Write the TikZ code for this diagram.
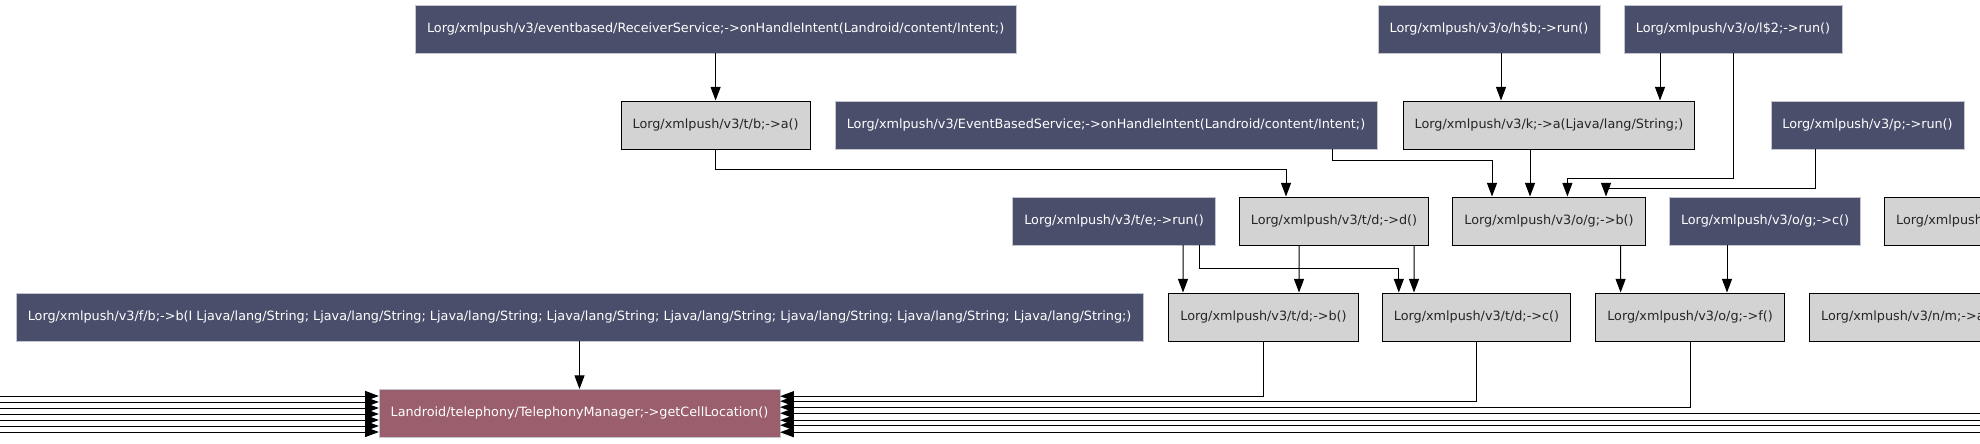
\documentclass[tikz,border=0pt]{standalone}
\usepackage{fontspec}
\setmainfont{DejaVu Sans}
\usetikzlibrary{arrows.meta,calc}
\definecolor{Slate}{HTML}{494E6B}
\definecolor{Ash}{HTML}{D3D3D3}
\definecolor{Rose}{HTML}{9A5E6C}
\definecolor{Rim}{HTML}{C4C6CF}

\begin{document}
\begin{tikzpicture}[font=\fontsize{9.1pt}{11pt}\selectfont,>={Triangle[length=3.4mm,width=2.5mm]},cell/.style={minimum height=1.2cm,inner xsep=2.9mm,inner ysep=0pt},caller/.style={cell,fill=Slate,draw=Rim,line width=0.3pt,text=white},callee/.style={cell,fill=Ash,draw=black,line width=0.7pt,text=black!85},sink/.style={cell,fill=Rose,draw=Rim,line width=0.3pt,text=white},flow/.style={->,line width=0.7pt,draw=black}]
 \useasboundingbox (0,0) rectangle (49.5,-11.075);
 \node[caller] (rs) at (17.89,-0.725) {Lorg/xmlpush/v3/eventbased/ReceiverService;->onHandleIntent(Landroid/content/Intent;)};
 \node[caller] (hb) at (37.225,-0.725) {Lorg/xmlpush/v3/o/h\$b;->run()};
 \node[caller] (l2) at (43.325,-0.725) {Lorg/xmlpush/v3/o/l\$2;->run()};
 \node[callee] (tba) at (17.89,-3.125) {Lorg/xmlpush/v3/t/b;->a()};
 \node[caller] (ebs) at (27.65,-3.125) {Lorg/xmlpush/v3/EventBasedService;->onHandleIntent(Landroid/content/Intent;)};
 \node[callee] (ka) at (38.725,-3.125) {Lorg/xmlpush/v3/k;->a(Ljava/lang/String;)};
 \node[caller] (prun) at (46.6875,-3.125) {Lorg/xmlpush/v3/p;->run()};
 \node[caller] (terun) at (27.85,-5.525) {Lorg/xmlpush/v3/t/e;->run()};
 \node[callee] (tdd) at (33.35,-5.525) {Lorg/xmlpush/v3/t/d;->d()};
 \node[callee] (ogb) at (38.725,-5.525) {Lorg/xmlpush/v3/o/g;->b()};
 \node[caller] (ogc) at (44.125,-5.525) {Lorg/xmlpush/v3/o/g;->c()};
 \node[callee,anchor=west] (nmb) at (47.1,-5.525) {Lorg/xmlpush/v3/n/m;->b()};
 \node[caller] (fb) at (14.4875,-7.925) {Lorg/xmlpush/v3/f/b;->b(I Ljava/lang/String; Ljava/lang/String; Ljava/lang/String; Ljava/lang/String; Ljava/lang/String; Ljava/lang/String; Ljava/lang/String; Ljava/lang/String;)};
 \node[callee] (tdb) at (31.5875,-7.925) {Lorg/xmlpush/v3/t/d;->b()};
 \node[callee] (tdc) at (36.9125,-7.925) {Lorg/xmlpush/v3/t/d;->c()};
 \node[callee] (ogf) at (42.25,-7.925) {Lorg/xmlpush/v3/o/g;->f()};
 \node[callee,anchor=west] (nma) at (45.225,-7.925) {Lorg/xmlpush/v3/n/m;->a()};
 \node[sink] (tm) at (14.4875,-10.33) {Landroid/telephony/TelephonyManager;->getCellLocation()};
 \coordinate (ledge) at (-0.5,0); \coordinate (redge) at (50,0);
 \draw[flow] (rs.south) -- (tba.north);
 \draw[flow] ([xshift=3mm]hb.south) -- ([xshift=3mm]hb.south |- ka.north);
 \draw[flow] ([xshift=2.775cm]ka.north |- l2.south) -- ([xshift=2.775cm]ka.north);
 \draw[flow] (l2.south) -- ++(0,-3.125) -| ([xshift=4.6mm]ogb.north);
 \draw[flow] ([xshift=5.65cm]ebs.south) -- ++(0,-0.275) -| ([xshift=-1.425cm]ogb.north);
 \draw[flow] ([xshift=-4.75mm]ka.south) -- ([xshift=-4.75mm]ogb.north);
 \draw[flow] ([xshift=-1.2975cm]prun.south) -- ++(0,-0.975) -| ([xshift=1.425cm]ogb.north);
 \draw[flow] (tba.south) -- ++(0,-0.5) -| ([xshift=-1.2cm]tdd.north);
 \draw[flow] ([xshift=1.725cm]terun.south) -- ([xshift=-2.0125cm]tdb.north);
 \draw[flow] ([xshift=2.125cm]terun.south) -- ++(0,-0.575) -| ([xshift=-1.9425cm]tdc.north);
 \draw[flow] ([xshift=-8.75mm]tdd.south) -- ([xshift=8.875mm]tdb.north);
 \draw[flow] ([xshift=2cm]tdd.south) -- ([xshift=-1.5625cm]tdc.north);
 \draw[flow] ([xshift=1.79cm]ogb.south) -- ([xshift=-1.735cm]ogf.north);
 \draw[flow] ([xshift=-9.5mm]ogc.south) -- ([xshift=9.25mm]ogf.north);
 \draw[flow] (fb.south) -- (tm.north);
 \draw[flow] (tdb.south) |- ([yshift=4.25mm]tm.east);
 \draw[flow] (tdc.south) |- ([yshift=3mm]tm.east);
 \draw[flow] (ogf.south) |- ([yshift=1.5mm]tm.east);
 \foreach \dy [count=\i] in {0,-1.75,-3,-4.75} {\coordinate (rin\i) at ([yshift=\dy mm]tm.east -| redge); \draw[flow] (rin\i) -- ([yshift=\dy mm]tm.east);}
 \foreach \dy [count=\i] in {4.3,2.8,1.3,-0.2,-1.7,-3.2,-4.7} {\coordinate (lin\i) at ([yshift=\dy mm]tm.west -| ledge); \draw[flow] (lin\i) -- ([yshift=\dy mm]tm.west);}
\end{tikzpicture}
\end{document}
